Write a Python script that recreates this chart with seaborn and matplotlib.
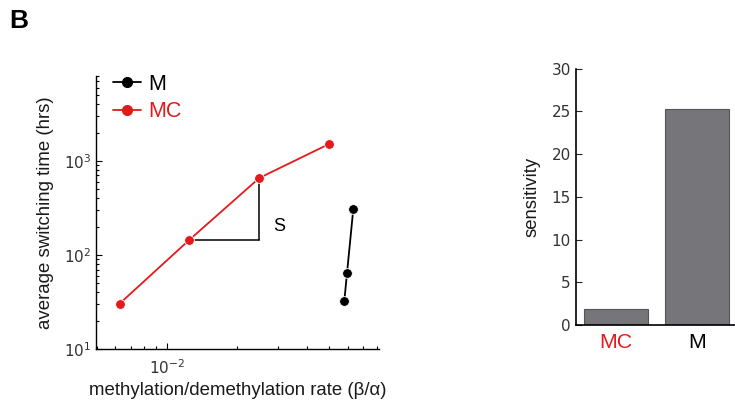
import numpy as np
import pandas as pd
import matplotlib
matplotlib.use("Agg")
import matplotlib.pyplot as plt
import seaborn as sns
from matplotlib.ticker import LogLocator, FixedLocator, NullFormatter
from matplotlib.lines import Line2D

sns.set_style("ticks")
plt.rcParams['font.family'] = ['Liberation Sans', 'DejaVu Sans']

# ---- data ----
mc_rate = [0.00625, 0.0125, 0.025, 0.05]
mc_time = [30.3, 145, 659, 1517]
m_rate = [0.058, 0.0596, 0.0634]
m_time = [32, 64.4, 305]

bar_labels = ["MC", "M"]
bar_values = [1.87, 25.25]

RED = "#e31a1c"
GRAY = "#76767a"

fig = plt.figure(figsize=(7.35, 4.01), dpi=100)

# ---- left panel ----
ax = fig.add_axes([0.1306, 0.1297, 0.5156 - 0.1306, 0.8105 - 0.1297])
df = pd.concat([
    pd.DataFrame({"rate": m_rate, "time": m_time, "model": "M"}),
    pd.DataFrame({"rate": mc_rate, "time": mc_time, "model": "MC"}),
])
sns.lineplot(data=df, x="rate", y="time", hue="model", palette={"M": "black", "MC": RED},
             marker="o", markersize=7, markeredgewidth=0.6, linewidth=1.3, ax=ax,
             legend=False, sort=False, estimator=None)
ax.set_xscale("log")
ax.set_yscale("log")
ax.set_xlim(4.95e-3, 0.0818)
ax.set_ylim(10, 8000)

# slope triangle
ax.plot([mc_rate[1], mc_rate[2]], [mc_time[1], mc_time[1]], color="black", lw=1.1, zorder=1)
ax.plot([mc_rate[2], mc_rate[2]], [mc_time[1], mc_time[2]], color="black", lw=1.1, zorder=1)
ax.text(0.0305, 199, "S", fontsize=13, ha="center", va="center", color="black")

ax.xaxis.set_major_locator(FixedLocator([1e-2]))
ax.xaxis.set_minor_locator(LogLocator(base=10, subs=np.arange(2, 10)))
ax.xaxis.set_minor_formatter(NullFormatter())
ax.yaxis.set_major_locator(FixedLocator([10, 100, 1000]))
ax.yaxis.set_minor_locator(LogLocator(base=10, subs=np.arange(2, 10)))
ax.yaxis.set_minor_formatter(NullFormatter())
ax.set_xticklabels([r"$10^{-2}$"])
ax.set_yticklabels([r"$10^{1}$", r"$10^{2}$", r"$10^{3}$"])
ax.tick_params(which="both", direction="in", colors="black", labelcolor="#333333",
               labelsize=11, width=0.8)
ax.tick_params(which="major", length=4)
ax.tick_params(which="minor", length=2.5)
ax.tick_params(axis="x", pad=7)
for lab in ax.get_xticklabels() + ax.get_yticklabels():
    lab.set_family("DejaVu Sans")
sns.despine(ax=ax)
for s in ["left", "bottom"]:
    ax.spines[s].set_linewidth(1.0)
    ax.spines[s].set_color("black")
ax.set_xlabel("methylation/demethylation rate (β/α)", fontsize=13.4, color="#1a1a1a", labelpad=3)
ax.set_ylabel("average switching time (hrs)", fontsize=13.4, color="#1a1a1a", labelpad=7)

handles = [Line2D([], [], color="black", marker="o", markersize=7, lw=1.3),
           Line2D([], [], color=RED, marker="o", markersize=7, lw=1.3)]
leg = ax.legend(handles, ["M", "MC"], loc="upper left", bbox_to_anchor=(0.03, 1.04),
                frameon=False, fontsize=15.5, handlelength=1.3, handletextpad=0.35,
                labelspacing=0.3, borderaxespad=0)
leg.get_texts()[0].set_color("black")
leg.get_texts()[1].set_color(RED)

# ---- right panel ----
ax2 = fig.add_axes([0.7833, 0.1895, 1.003 - 0.7833, 0.8287 - 0.1895])
bdf = pd.DataFrame({"model": bar_labels, "sensitivity": bar_values})
sns.barplot(data=bdf, x="model", y="sensitivity", color=GRAY, width=0.8,
            edgecolor="#555558", linewidth=0.8, saturation=1, ax=ax2)
ax2.set_xlim(-0.5, 1.5)
ax2.set_ylim(0, 30)
ax2.set_yticks([0, 5, 10, 15, 20, 25, 30])
ax2.tick_params(axis="y", direction="in", length=4, width=0.8, labelsize=11,
                labelcolor="#333333")
ax2.tick_params(axis="x", direction="in", length=2, width=0.6, labelsize=15.3, pad=6)
for lab in ax2.get_yticklabels():
    lab.set_family("DejaVu Sans")
ax2.get_xticklabels()[0].set_color(RED)
ax2.get_xticklabels()[1].set_color("black")
ax2.set_xlabel("")
ax2.set_ylabel("sensitivity", fontsize=13.3, color="#1a1a1a", labelpad=8)
sns.despine(ax=ax2)
for s in ["left", "bottom"]:
    ax2.spines[s].set_linewidth(1.2)
    ax2.spines[s].set_color("black")

fig.text(0.013, 0.947, "B", fontsize=19, fontweight="bold", ha="left", va="center",
         color="black")

fig.savefig("out.png", dpi=100)
